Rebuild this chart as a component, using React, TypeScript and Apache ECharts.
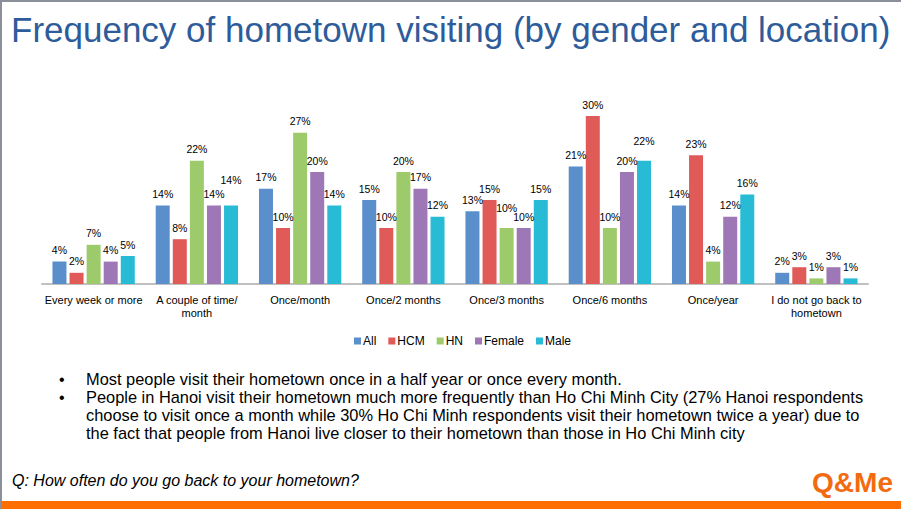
import React, { useEffect, useRef } from "react";
import * as echarts from "echarts";

const categories = [
  "Every week or more",
  "A couple of time/\nmonth",
  "Once/month",
  "Once/2 months",
  "Once/3 months",
  "Once/6 months",
  "Once/year",
  "I do not go back to\nhometown",
];
const seriesNames = ["All", "HCM", "HN", "Female", "Male"];
const allValues = [4, 14, 17, 15, 13, 21, 14, 2];
const hcmValues = [2, 8, 10, 10, 15, 30, 23, 3];
const hnValues = [7, 22, 27, 20, 10, 10, 4, 1];
const femaleValues = [4, 14, 20, 17, 10, 20, 12, 3];
const maleValues = [5, 14, 14, 12, 15, 22, 16, 1];
const colors = ["#5A8FCB", "#E05A58", "#9DCB6C", "#9E78B6", "#27BBD6"];
// extra upward shift of some value labels (pixels), as in the reference, to avoid collisions
const labelLift: Record<string, number> = { "4-1": 14, "2-4": 9, "4-5": 8 };

const titleText = "Frequency of hometown visiting (by gender and location)";
const bulletLines = [
  { bullet: true, text: "Most people visit their hometown once in a half year or once every month." },
  { bullet: true, text: "People in Hanoi visit their hometown much more frequently than Ho Chi Minh City (27% Hanoi respondents" },
  { bullet: false, text: "choose to visit once a month while 30% Ho Chi Minh respondents visit their hometown twice a year) due to" },
  { bullet: false, text: "the fact that people from Hanoi live closer to their hometown than those in Ho Chi Minh city" },
];
const questionText = "Q: How often do you go back to your hometown?";

export default function App() {
  const ref = useRef<HTMLDivElement>(null);
  useEffect(() => {
    document.body.style.margin = "0";
    const chart = echarts.init(ref.current!, undefined, { renderer: "svg" });
    const dataSets = [allValues, hcmValues, hnValues, femaleValues, maleValues];
    const font = "Liberation Sans, Arial, sans-serif";
    const graphics: any[] = [
      { type: "rect", shape: { x: 0, y: 0, width: 901, height: 2 }, style: { fill: "#8A8F99" } },
      { type: "rect", shape: { x: 0, y: 0, width: 2, height: 509 }, style: { fill: "#8A8F99" } },
      {
        type: "text",
        x: 11,
        y: 29,
        style: { text: titleText, font: `35px ${font}`, fill: "#2E5C9A", textVerticalAlign: "middle" },
      },
      {
        type: "text",
        x: 12,
        y: 480,
        style: { text: questionText, font: `italic 16px ${font}`, fill: "#000", textVerticalAlign: "middle" },
      },
      { type: "rect", shape: { x: 2, y: 501, width: 899, height: 8 }, style: { fill: "#FF6F00" } },
      {
        type: "text",
        x: 893,
        y: 482,
        style: {
          text: "Q&Me",
          font: `bold 28px ${font}`,
          fill: "#F26B10",
          textAlign: "right",
          textVerticalAlign: "middle",
        },
      },
    ];
    bulletLines.forEach((l, i) => {
      const y = 379 + i * 18;
      if (l.bullet) {
        graphics.push({
          type: "text",
          x: 59,
          y,
          style: { text: "•", font: `16px ${font}`, fill: "#000", textVerticalAlign: "middle" },
        });
      }
      graphics.push({
        type: "text",
        x: 86,
        y,
        style: { text: l.text, font: `16.4px ${font}`, fill: "#000", textVerticalAlign: "middle" },
      });
    });

    chart.setOption({
      animation: false,
      color: colors,
      textStyle: { fontFamily: font },
      grid: { left: 42, right: 33, top: 116, bottom: 225, containLabel: false },
      legend: {
        data: seriesNames,
        top: 330,
        left: 349,
        itemWidth: 7,
        itemHeight: 7,
        itemGap: 12,
        icon: "rect",
        textStyle: { fontSize: 12, color: "#000", padding: [0, 0, 0, -3] },
      },
      xAxis: {
        type: "category",
        data: categories,
        axisLine: { lineStyle: { color: "#C0C0C0", width: 2 } },
        axisTick: { show: false },
        axisLabel: { interval: 0, fontSize: 11, color: "#000", margin: 9, lineHeight: 13 },
      },
      yAxis: {
        type: "value",
        min: 0,
        max: 30,
        show: false,
        splitLine: { show: false },
      },
      graphic: graphics,
      series: seriesNames.map((name, i) => ({
        name,
        type: "bar",
        data: dataSets[i].map((v, j) => {
          const lift = labelLift[`${i}-${j}`];
          return lift ? { value: v, label: { offset: [0, -lift] } } : v;
        }),
        barWidth: 14,
        barGap: "22%",
        label: {
          show: true,
          position: "top",
          distance: 6,
          fontSize: 10.5,
          color: "#000",
          formatter: "{c}%",
        },
      })),
    });
    return () => chart.dispose();
  }, []);
  return <div ref={ref} style={{ width: 901, height: 509, background: "#fff" }} />;
}
